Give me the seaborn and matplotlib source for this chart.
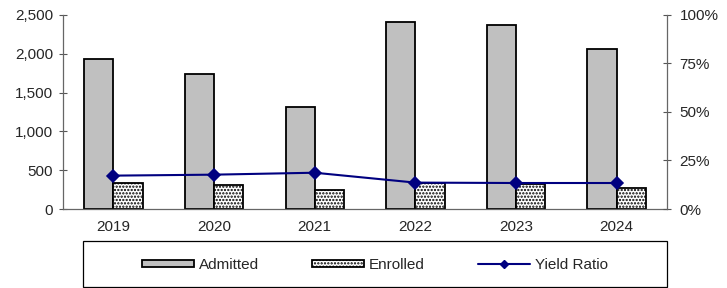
import pandas as pd
import matplotlib.pyplot as plt
import seaborn as sns
from matplotlib.patches import Rectangle
from matplotlib.lines import Line2D
from matplotlib.ticker import FuncFormatter, PercentFormatter

years = ['2019', '2020', '2021', '2022', '2023', '2024']
admitted = [1929, 1740, 1314, 2410, 2375, 2058]
enrolled = [339, 309, 249, 331, 322, 275]
yield_ratio = [0.172, 0.177, 0.187, 0.136, 0.134, 0.134]

bars = pd.DataFrame({
    'Year': years * 2,
    'Count': admitted + enrolled,
    'Type': ['Admitted'] * len(years) + ['Enrolled'] * len(years),
})
ratio = pd.DataFrame({'Year': years, 'Yield': yield_ratio})

sns.set_style('white')
plt.rcParams['font.family'] = ['Liberation Sans', 'DejaVu Sans']
plt.rcParams['hatch.color'] = 'black'
plt.rcParams['hatch.linewidth'] = 1.1

fig = plt.figure(figsize=(7.27, 2.88), dpi=100)
ax = fig.add_axes([0.0867, 0.2743, 0.8308, 0.6737])

sns.barplot(data=bars, x='Year', y='Count', hue='Type', ax=ax,
            palette={'Admitted': '#C0C0C0', 'Enrolled': 'white'},
            width=0.58, edgecolor='black', linewidth=1.3, legend=False)
for p in ax.containers[1]:
    p.set_hatch('.....')

ax2 = ax.twinx()
sns.pointplot(data=ratio, x='Year', y='Yield', ax=ax2, color='#000080',
              markers='D', markersize=6.5, linewidth=1.5, errorbar=None)

ax.set_xlim(-0.5, 5.5)
ax.set_ylim(0, 2500)
ax2.set_ylim(0, 1)
ax.set_yticks([0, 500, 1000, 1500, 2000, 2500])
ax.yaxis.set_major_formatter(FuncFormatter(lambda v, p: f'{int(v):,}'))
ax2.set_yticks([0, 0.25, 0.5, 0.75, 1.0])
ax2.yaxis.set_major_formatter(PercentFormatter(1.0, decimals=0))

ax.set_xticks(range(len(years)))
ax.set_xticklabels(years)
ax.set_xticks([i + 0.5 for i in range(len(years) - 1)], minor=True)
ax.tick_params(axis='x', which='major', length=0, pad=8, labelsize=11)
ax.tick_params(axis='x', which='minor', direction='inout', length=7,
               width=0.8, color='#555555')
ax.tick_params(axis='y', direction='inout', length=6, width=0.8,
               color='#555555', pad=4, labelsize=11)
ax2.tick_params(axis='y', direction='inout', length=6, width=0.8,
                color='#555555', pad=6, labelsize=11)

for a in (ax, ax2):
    a.set_xlabel('')
    a.set_ylabel('')
    a.spines['top'].set_visible(False)
    for s in ('left', 'right', 'bottom'):
        a.spines[s].set_color('#666666')
        a.spines[s].set_linewidth(0.9)
ax.spines['right'].set_visible(False)
ax2.spines['left'].set_visible(False)
ax2.spines['bottom'].set_visible(False)

# legend box
fig.patches.append(Rectangle((83 / 727, 1 - 287 / 288), 584 / 727, 46 / 288,
                             transform=fig.transFigure, fill=False,
                             edgecolor='black', linewidth=0.9))
line_handle = Line2D([], [], color='#000080', linewidth=1.5,
                     marker='D', markersize=4.5)
handles = [ax.containers[0][0], ax.containers[1][0], line_handle]
fig.legend(handles, ['Admitted', 'Enrolled', 'Yield Ratio'], ncol=3,
           loc='center', bbox_to_anchor=(375 / 727, 1 - 265 / 288),
           frameon=False, fontsize=11, handlelength=3.4, handleheight=0.4,
           handletextpad=0.3, columnspacing=3.5)

fig.savefig('out.png', dpi=100)
